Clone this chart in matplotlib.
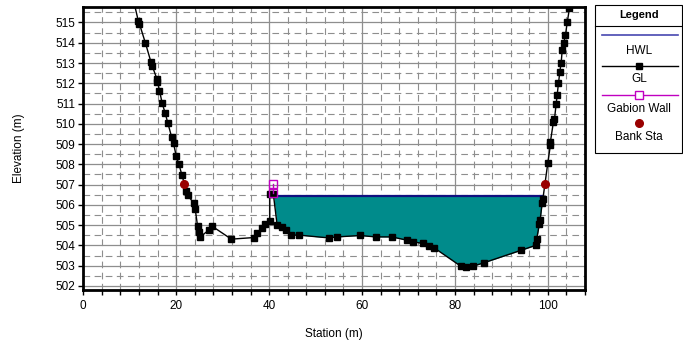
import numpy as np
import matplotlib
matplotlib.use("Agg")
import matplotlib.pyplot as plt
from matplotlib.patches import Rectangle

plt.rcParams['font.family'] = ['Liberation Sans', 'DejaVu Sans']

# ground line (station, elevation)
gl_x = [10.8, 11.87, 12.08, 13.38, 14.54, 14.83, 15.84, 15.97, 16.4, 16.98, 17.63,
        18.21, 18.99, 19.42, 20.0, 20.59, 21.23, 22.16, 22.44, 23.74, 24.1, 24.6,
        24.82, 25.18, 26.97, 27.71, 31.87, 36.84, 37.42, 38.5, 39.21, 40.14, 40.14,
        40.9, 41.73, 42.81, 43.53, 44.61, 46.4, 52.87, 54.68, 59.56, 62.95, 66.4,
        69.64, 70.87, 73.03, 74.45, 75.53, 81.29, 82.3, 83.82, 86.19, 94.24, 97.48,
        97.63, 98.19, 98.34, 98.77, 98.92, 100.0, 100.56, 100.56, 101.21, 101.43,
        101.79, 102.01, 102.29, 102.59, 102.87, 103.09, 103.45, 103.8, 104.17,
        104.66, 104.95]
gl_y = [516.1, 515.05, 514.94, 513.98, 513.07, 512.86, 512.22, 512.08, 511.64, 511.02,
        510.52, 510.03, 509.37, 509.04, 508.41, 508.0, 507.47, 506.70, 506.48, 506.10,
        505.78, 504.95, 504.67, 504.42, 504.75, 504.95, 504.31, 504.39, 504.62, 504.84,
        505.05, 505.21, 506.55, 506.55, 505.0, 504.89, 504.75, 504.51, 504.51, 504.37,
        504.42, 504.49, 504.42, 504.42, 504.26, 504.18, 504.10, 503.98, 503.88, 502.97,
        502.94, 502.97, 503.14, 503.76, 504.01, 504.34, 505.08, 505.25, 506.07, 506.27,
        508.08, 508.96, 509.12, 510.11, 510.23, 510.98, 511.43, 512.0, 512.58, 513.02,
        513.62, 514.01, 514.39, 515.0, 515.71, 516.3]

hwl = 506.45
channel_start = 40.5  # water only right of the wall

wall_x = [40.87, 40.87]
wall_y = [506.57, 507.01]

bank_x = [21.6, 99.37]
bank_y = [507.03, 507.03]

gx = np.array(gl_x)
gy = np.array(gl_y)

# where the water surface meets the ground inside the channel
cross = []
for i in range(len(gx) - 1):
    if gx[i] < channel_start:
        continue
    a, b = gy[i] - hwl, gy[i + 1] - hwl
    if a * b < 0:
        t = a / (a - b)
        cross.append(gx[i] + t * (gx[i + 1] - gx[i]))
x_left, x_right = cross[0], cross[-1]

fig = plt.figure(figsize=(6.83, 3.49), dpi=100)
ax = fig.add_axes([83.3 / 683, 1 - 290 / 349, (585 - 83.3) / 683, (290 - 7.3) / 349])

inside = (gx >= channel_start) & (gy <= hwl)
ax.fill_between(gx, gy, hwl, where=inside, interpolate=True,
                color='#008B8B', lw=0, zorder=2)
ax.plot([x_left, x_right], [hwl, hwl], color='#101080', lw=1.6, zorder=3)
ax.plot(gx, gy, color='black', lw=1, marker='s', ms=4.2, zorder=4)
ax.plot(wall_x, wall_y, color='#C000C0', lw=1, marker='s', ms=5.5,
        mfc='none', mew=1, zorder=5)
ax.plot(bank_x, bank_y, ls='none', marker='o', ms=5.5, color='#990000', zorder=6)

ax.set_xlim(0, 108)
ax.set_ylim(501.8, 515.75)
ax.set_xticks(range(0, 101, 20))
ax.set_xticks(np.arange(0, 109, 4), minor=True)
ax.set_yticks(range(502, 516))
ax.set_yticks(np.arange(502.5, 515.6, 1), minor=True)

ax.set_axisbelow(True)
ax.grid(which='major', color='#8e8e8e', lw=0.9, ls='-')
ax.grid(which='minor', color='#8e8e8e', lw=0.8, ls=(0, (6, 4)))

ax.tick_params(which='both', direction='out', length=3.5, width=1, labelsize=8.5, pad=2)
ax.tick_params(axis='y', which='minor', length=0)
ax.tick_params(axis='x', pad=4)
for s in ax.spines.values():
    s.set_linewidth(2)

ax.set_xlabel('Station (m)', fontsize=8.5, labelpad=11)
ax.set_ylabel('Elevation (m)', fontsize=8.5, labelpad=22)

# legend box, drawn in pixel coordinates
lax = fig.add_axes([594 / 683, 1 - 153 / 349, 89 / 683, 149 / 349])
lax.set_xlim(594, 683)
lax.set_ylim(153, 4)
lax.axis('off')
lax.add_patch(Rectangle((594.5, 4.5), 87.5, 148, fill=False, ec='black', lw=0.8,
                        clip_on=False))
lax.plot([594.5, 682], [26, 26], color='black', lw=0.8)
lax.text(639, 15.5, 'Legend', ha='center', va='center', fontsize=8, fontweight='bold')
lx = [602, 678]
lax.plot(lx, [35, 35], color='#4848b0', lw=1.2)
lax.text(639, 50.5, 'HWL', ha='center', va='center', fontsize=8.5)
lax.plot(lx, [65.5, 65.5], color='black', lw=1)
lax.plot([639], [65.5], marker='s', ms=4.2, color='black')
lax.text(639, 79, 'GL', ha='center', va='center', fontsize=8.5)
lax.plot(lx, [95, 95], color='#C000C0', lw=1)
lax.plot([639], [95], marker='s', ms=5.5, mfc='white', mec='#C000C0', mew=1)
lax.text(639, 108.5, 'Gabion Wall', ha='center', va='center', fontsize=8.5)
lax.plot([639], [123.3], marker='o', ms=5.5, color='#990000')
lax.text(639, 137, 'Bank Sta', ha='center', va='center', fontsize=8.5)

fig.savefig('out.png', dpi=100)
